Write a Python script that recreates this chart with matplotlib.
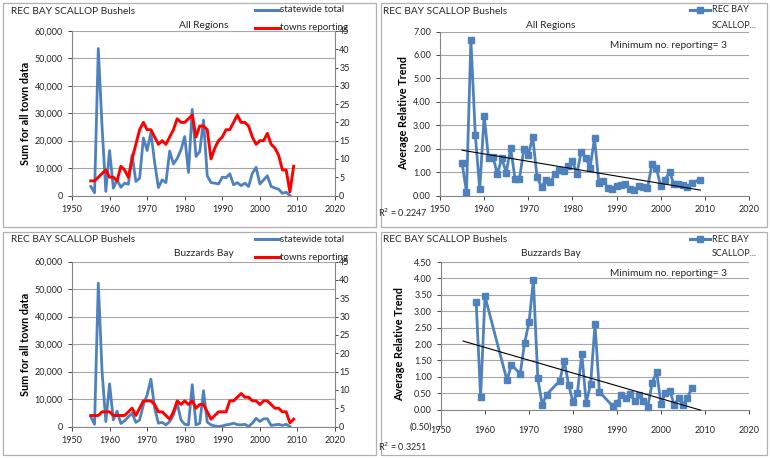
import numpy as np
import matplotlib
matplotlib.use("Agg")
import matplotlib.pyplot as plt
from matplotlib.lines import Line2D
from matplotlib.patches import Rectangle
from matplotlib.ticker import FuncFormatter, MultipleLocator

plt.rcParams['font.family'] = ['Lato', 'DejaVu Sans']

# ---- data ----
sw_years = list(range(1955, 2009))
towns_years = list(range(1955, 2010))

all_total = [3300, 1000, 53600, 25000, 1500, 16400, 2700, 5700, 3000, 4500,
             4100, 14800, 5100, 6300, 21000, 16400, 23000, 12000, 2900, 5700,
             4700, 16200, 11500, 13500, 16600, 21500, 8400, 31400, 14200, 16000,
             27500, 7200, 4700, 4500, 4200, 6700, 6500, 7900, 3900, 4700,
             3600, 4500, 3300, 8100, 10300, 4200, 5700, 7200, 3300, 2700,
             2300, 800, 1200, 0]
all_towns = [4, 4, 5, 6, 7, 5, 5, 4, 8, 7,
             5, 10, 14, 18, 20, 18, 18, 16, 14, 15,
             14, 16, 18, 21, 20, 20, 21, 22, 16, 19,
             19, 18, 10, 13, 15, 16, 18, 18, 20, 22,
             20, 20, 19, 16, 14, 15, 15, 17, 14, 13,
             11, 7, 7, 1, 8]

bb_total = [3600, 800, 52100, 20000, 1800, 15500, 2400, 5600, 1100, 2100,
            3500, 4800, 1500, 2400, 7900, 11500, 17200, 6700, 1200, 1500,
            600, 1800, 4200, 8500, 2400, 800, 600, 15200, 600, 1200,
            13000, 1600, 600, 200, 0, 200, 600, 800, 1200, 700,
            600, 800, 0, 1200, 3000, 1800, 2800, 2800, 400, 600,
            800, 400, 800, 0]
bb_towns = [3, 3, 3, 4, 4, 4, 3, 3, 3, 3,
            4, 5, 3, 5, 7, 7, 7, 6, 4, 4,
            3, 2, 4, 7, 6, 7, 6, 7, 5, 6,
            6, 4, 2, 3, 4, 4, 4, 7, 7, 8,
            9, 8, 8, 7, 7, 6, 7, 7, 6, 5,
            5, 4, 4, 1, 2]

all_trend_years = list(range(1955, 2008)) + [2009]
all_trend = [1.40, 0.13, 6.65, 2.58, 0.26, 3.41, 1.58, 1.65, 0.91, 1.60,
             0.97, 2.03, 0.71, 0.71, 1.98, 1.74, 2.50, 0.78, 0.36, 0.68,
             0.57, 0.90, 1.08, 1.04, 1.27, 1.46, 0.93, 1.87, 1.61, 1.18,
             2.44, 0.53, 0.61, 0.34, 0.29, 0.40, 0.43, 0.47, 0.29, 0.23,
             0.40, 0.37, 0.30, 1.34, 1.17, 0.41, 0.67, 1.01, 0.47, 0.48,
             0.44, 0.36, 0.54, 0.68]

bb_trend_years = [1958, 1959, 1960, 1965, 1966, 1968, 1969, 1970, 1971, 1972,
                  1973, 1974, 1977, 1978, 1979, 1980, 1981, 1982, 1983, 1984,
                  1985, 1986, 1989, 1990, 1991, 1992, 1993, 1994, 1995, 1996,
                  1997, 1998, 1999, 2000, 2001, 2002, 2003, 2004, 2005, 2006, 2007]
bb_trend = [3.27, 0.38, 3.45, 0.89, 1.37, 1.09, 2.03, 2.66, 3.94, 0.95,
            0.15, 0.46, 0.88, 1.49, 0.76, 0.23, 0.50, 1.70, 0.21, 0.78,
            2.60, 0.54, 0.11, 0.21, 0.43, 0.34, 0.49, 0.25, 0.43, 0.26,
            0.09, 0.82, 1.15, 0.18, 0.51, 0.58, 0.14, 0.35, 0.15, 0.36, 0.66]

BLUE = '#4F81BD'
RED = '#FF0000'
GRID = '#a6a6a6'
TXT = '#262626'
W, H = 770, 458

fig = plt.figure(figsize=(W / 100, H / 100), dpi=100)
fig.patch.set_facecolor('white')


def fx(x):
    return x / W


def fy(y):
    return 1 - y / H


def axes_px(l, t, r, b):
    return fig.add_axes([fx(l), fy(b), fx(r) - fx(l), fy(t) - fy(b)])


def frame(l, t, r, b):
    fig.add_artist(Rectangle((fx(l), fy(b)), fx(r) - fx(l), fy(t) - fy(b),
                             transform=fig.transFigure, fill=False,
                             edgecolor='#b0b0b0', lw=0.9))


def legend_line(x0, x1, y, color, marker=None):
    xm = (x0 + x1) / 2
    fig.add_artist(Line2D([fx(x0), fx(xm), fx(x1)], [fy(y)] * 3, transform=fig.transFigure,
                          color=color, lw=2.2, marker=marker, markersize=4.5,
                          markevery=[1] if marker else None))


def style_x(ax):
    ax.set_xlim(1950, 2020)
    ax.set_xticks(range(1950, 2021, 10))
    ax.tick_params(axis='x', labelsize=6.5, colors=TXT, length=3, width=0.6)
    for s in ['top', 'right']:
        ax.spines[s].set_visible(False)
    for s in ['left', 'bottom']:
        ax.spines[s].set_color('#868686')
        ax.spines[s].set_linewidth(0.8)
    ax.yaxis.grid(True, color=GRID, lw=0.8)
    ax.set_axisbelow(True)


def total_panel(box, area, subtitle, total, towns):
    l, t, r, b = box
    frame(l, t, r, b)
    ax = axes_px(*area)
    style_x(ax)
    ax.plot(sw_years, total, color=BLUE, lw=2.0, zorder=3)
    ax.set_ylim(0, 60000)
    ax.yaxis.set_major_locator(MultipleLocator(10000))
    ax.yaxis.set_major_formatter(FuncFormatter(lambda v, p: f'{int(v):,}'))
    ax.tick_params(axis='y', labelsize=6.5, colors=TXT, length=3, width=0.6)
    ax.set_ylabel('Sum for all town data', fontsize=7.8, fontweight='bold', color='black', labelpad=3)
    ax2 = ax.twinx()
    ax2.plot(towns_years, towns, color=RED, lw=2.1, zorder=4)
    ax2.set_ylim(0, 45)
    ax2.yaxis.set_major_locator(MultipleLocator(5))
    ax2.tick_params(axis='y', labelsize=6.5, colors=TXT, length=2, width=0.6, pad=1)
    for s in ['top', 'left', 'bottom']:
        ax2.spines[s].set_visible(False)
    ax2.spines['right'].set_color('#868686')
    ax2.spines['right'].set_linewidth(0.8)
    fig.text(fx(l + 8), fy(t + 8), 'REC BAY SCALLOP Bushels', fontsize=7.3, color=TXT, va='center')
    fig.text(fx((area[0] + area[2]) / 2), fy(t + 22), subtitle, fontsize=7.3, color=TXT,
             ha='center', va='center')
    legend_line(255, 279, t + 7, BLUE)
    fig.text(fx(280), fy(t + 7), 'statewide total', fontsize=7, color=TXT, va='center')
    legend_line(255, 279, t + 25, RED)
    fig.text(fx(280), fy(t + 25), 'towns reporting', fontsize=7, color=TXT, va='center')


def trend_panel(box, area, subtitle, yrs, vals, ymin, ymax, step, r2, r2_y):
    l, t, r, b = box
    frame(l, t, r, b)
    ax = axes_px(*area)
    style_x(ax)
    ax.plot(yrs, vals, color=BLUE, lw=2.0, marker='s', markersize=4.2, zorder=3)
    k, c = np.polyfit(yrs, vals, 1)
    xs = np.array([1955, 2009])
    ax.plot(xs, k * xs + c, color='black', lw=0.8, zorder=4)
    ax.set_ylim(ymin, ymax)
    ax.set_yticks(np.arange(ymin, ymax + step / 2, step))
    ax.yaxis.set_major_formatter(FuncFormatter(
        lambda v, p: f'({abs(v):.2f})' if v < -1e-9 else f'{abs(v):.2f}'))
    ax.tick_params(axis='y', labelsize=6.5, colors=TXT, length=3, width=0.6)
    if ymin < 0:
        ax.yaxis.grid(False)
        for v in np.arange(step, ymax + step / 2, step):
            ax.axhline(v, color=GRID, lw=0.8, zorder=0)
        ax.spines['bottom'].set_position(('data', 0))
        ax.tick_params(axis='x', pad=9)
    ax.set_ylabel('Average Relative Trend', fontsize=7.8, fontweight='bold', color='black', labelpad=3)
    fig.text(fx(l + 2), fy(t + 8), 'REC BAY SCALLOP Bushels', fontsize=7.3, color=TXT, va='center')
    fig.text(fx(551), fy(t + 22), subtitle, fontsize=7.3, color=TXT, ha='center', va='center')
    legend_line(690, 710, t + 7, BLUE, marker='s')
    fig.text(fx(712), fy(t + 7), 'REC BAY', fontsize=6.5, color=TXT, va='center')
    fig.text(fx(712), fy(t + 22), 'SCALLOP...', fontsize=6.5, color=TXT, va='center')
    fig.text(fx(610), fy(t + 42), 'Minimum no. reporting= 3', fontsize=7.3, color=TXT, va='center')
    fig.text(fx(378), fy(r2_y), 'R$^2$ = ' + r2, fontsize=6.5, color=TXT, va='center')


total_panel((3, 3, 376, 227), (72, 31, 335, 195.5), 'All Regions', all_total, all_towns)
total_panel((3, 232, 376, 455), (72, 261.5, 335, 426.5), 'Buzzards Bay', bb_total, bb_towns)
trend_panel((381, 3, 767, 227), (440, 31.5, 749, 195.5), 'All Regions',
            all_trend_years, all_trend, 0, 7, 1, '0.2247', 213)
trend_panel((381, 232, 767, 455), (441, 262, 749, 426), 'Buzzards Bay',
            bb_trend_years, bb_trend, -0.5, 4.5, 0.5, '0.3251', 447)

fig.savefig('out.png', dpi=100)
